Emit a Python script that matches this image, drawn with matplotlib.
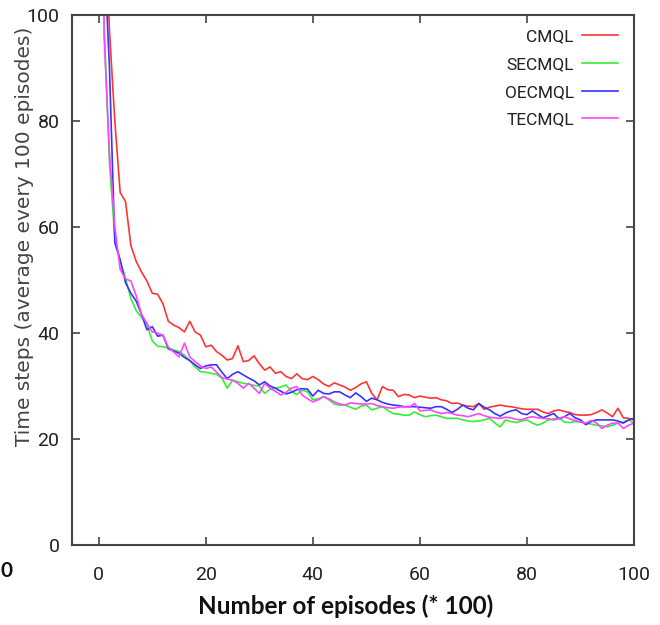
import matplotlib
matplotlib.use("Agg")
import matplotlib.pyplot as plt

# x axis: hundreds of episodes
episodes = list(range(0, 101))

cmql = [300, 125, 97, 80, 66.5, 64.8, 56.5, 53.5, 51.5, 49.8,
        47.5, 47.3, 45.5, 42.2, 41.5, 41.0, 40.2, 42.2, 40.2, 39.6,
        37.4, 37.7, 36.5, 35.8, 34.9, 35.2, 37.6, 34.6, 34.8, 35.7,
        34.2, 33.0, 33.6, 32.4, 32.7, 31.8, 31.4, 32.3, 31.4, 31.2,
        31.8, 31.2, 30.4, 29.9, 30.6, 30.2, 29.8, 29.2, 29.7, 30.4,
        30.8, 28.6, 27.4, 29.9, 29.3, 29.2, 28.0, 28.4, 28.3, 27.8,
        28.1, 27.9, 27.7, 27.8, 27.4, 27.2, 26.7, 26.8, 26.4, 26.2,
        26.1, 26.7, 25.6, 26.0, 26.2, 26.4, 26.2, 26.1, 25.9, 25.7,
        25.6, 25.6, 25.6, 25.1, 24.8, 25.3, 25.5, 25.2, 25.0, 24.6,
        24.5, 24.5, 24.6, 25.0, 25.5, 24.9, 24.2, 25.8, 24.0, 23.9,
        23.6]

secmql = [250, 98, 72, 58, 53.5, 50.4, 46.5, 44.2, 43.0, 41.6,
          38.5, 37.5, 37.4, 37.2, 36.8, 36.5, 35.8, 34.8, 33.6, 32.7,
          32.6, 32.4, 32.2, 31.5, 29.6, 31.1, 30.8, 30.5, 30.4, 30.1,
          30.0, 28.6, 29.4, 29.6, 29.8, 30.2, 29.0, 28.4, 29.2, 28.9,
          27.4, 27.6, 28.0, 27.4, 26.6, 26.4, 26.4, 26.0, 25.6, 26.2,
          26.4, 25.5, 25.8, 26.1, 25.4, 24.8, 24.7, 24.5, 24.5, 25.1,
          24.6, 24.2, 24.4, 24.5, 24.2, 23.9, 23.9, 23.9, 23.6, 23.4,
          23.3, 23.4, 23.6, 23.9, 23.0, 22.3, 23.6, 23.3, 23.1, 23.4,
          23.6, 23.0, 22.6, 23.0, 23.6, 23.8, 24.0, 23.2, 23.1, 23.3,
          23.2, 23.0, 22.8, 22.6, 22.5, 22.3, 22.6, 23.0, 23.2, 23.6,
          23.0]

oecmql = [260, 112, 90, 57, 53.8, 49.5, 47.5, 46.0, 43.5, 40.6,
          41.2, 39.4, 39.6, 37.0, 36.6, 36.2, 35.4, 34.8, 34.0, 33.3,
          33.8, 34.0, 34.0, 32.6, 31.4, 32.2, 32.7, 32.1, 31.5, 31.0,
          30.2, 30.8, 30.0, 29.6, 29.0, 28.5, 28.8, 29.3, 29.5, 29.4,
          28.1, 29.2, 28.6, 28.5, 28.9, 28.9, 28.3, 27.8, 28.7, 28.0,
          27.1, 27.7, 27.4, 26.9, 26.6, 26.4, 26.3, 26.1, 26.1, 26.1,
          26.0, 25.9, 25.8, 26.1, 26.1, 25.6, 25.0, 25.6, 26.4, 25.8,
          25.5, 26.7, 26.0, 25.5, 24.8, 24.3, 24.9, 25.3, 25.5, 24.8,
          24.6, 25.3, 24.6, 24.0, 24.4, 24.8, 23.8, 24.2, 24.8, 24.0,
          23.6, 22.7, 23.3, 23.6, 23.6, 23.6, 23.6, 23.4, 23.0, 23.6,
          23.9]

tecmql = [240, 96, 74, 60, 52, 50.2, 49.8, 47.0, 43.5, 41.8,
          40.2, 40.0, 39.5, 37.3, 36.4, 35.5, 38.1, 35.5, 34.6, 33.8,
          33.3, 33.6, 32.6, 31.6, 31.3, 31.1, 30.5, 29.6, 30.5, 29.6,
          28.6, 30.5, 29.6, 29.0, 28.3, 28.8, 29.6, 29.9, 28.3, 27.6,
          27.0, 27.4, 28.0, 27.6, 27.0, 26.6, 26.4, 26.8, 26.7, 26.6,
          26.6, 26.7, 26.3, 26.1, 25.9, 25.8, 26.0, 26.1, 26.0, 26.7,
          25.3, 25.4, 25.5, 25.1, 24.8, 25.0, 24.8, 24.5, 24.4, 24.2,
          24.5, 24.8, 24.4, 24.1, 24.0, 23.9, 24.1, 24.0, 23.7, 23.6,
          24.0, 24.2, 24.0, 23.9, 23.8, 23.6, 23.9, 24.2, 23.8, 23.5,
          23.2, 23.0, 23.5, 23.0, 22.0, 22.6, 23.0, 23.0, 22.0, 22.6,
          23.0]

labels = ["CMQL", "SECMQL", "OECMQL", "TECMQL"]
colors = ["#ff3535", "#35ee35", "#3535ff", "#ff45ff"]

xticks = [0, 20, 40, 60, 80, 100]
yticks = [0, 20, 40, 60, 80, 100]

# narrow face for the gnuplot-like tick / legend text
narrow = ["Liberation Sans Narrow", "Roboto"]

fig = plt.figure(figsize=(6.6, 6.25), dpi=100)
ax = fig.add_axes([72 / 660, 1 - 545 / 625, 562 / 660, 530 / 625])

for series, label, color in zip([cmql, secmql, oecmql, tecmql], labels, colors):
    ax.plot(episodes, series, color=color, lw=1.2, label=label)

ax.set_xlim(-5, 100)
ax.set_ylim(0, 100)
ax.set_xticks(xticks)
ax.set_yticks(yticks)
ax.tick_params(direction="in", length=6, width=1.2, color="#444444",
               top=True, right=True, labelsize=14, labelcolor="#222222")
ax.tick_params(axis="x", pad=15)
ax.tick_params(axis="y", pad=9)
for lab in ax.get_xticklabels() + ax.get_yticklabels():
    lab.set_family(narrow)
    lab.set_fontstretch("condensed")
for sp in ax.spines.values():
    sp.set_color("#444444")
    sp.set_linewidth(1.5)

leg = ax.legend(loc="upper right", bbox_to_anchor=(0.972, 0.973),
                frameon=False, markerfirst=False, borderpad=0,
                borderaxespad=0, handlelength=2.1, handletextpad=0.45,
                labelspacing=0.72,
                prop={"family": narrow, "size": 12.5, "stretch": "condensed"})
for t in leg.get_texts():
    t.set_color("#222222")

fig.text(25 / 660, 1 - 236 / 625, "Time steps (average every 100 episodes)",
         rotation=90, ha="center", va="center", fontsize=14.5,
         family="DejaVu Sans", color="#444444")
fig.text(346 / 660, 1 - 606 / 625, "Number of episodes (* 100)",
         ha="center", va="center", fontsize=17.5, fontweight="bold",
         family="Lato", color="#111111")
fig.text(0.5 / 660, 1 - 571 / 625, "0", ha="left", va="center",
         fontsize=15, fontweight="bold", family="Lato", color="#111111")

fig.savefig("out.png", dpi=100)
